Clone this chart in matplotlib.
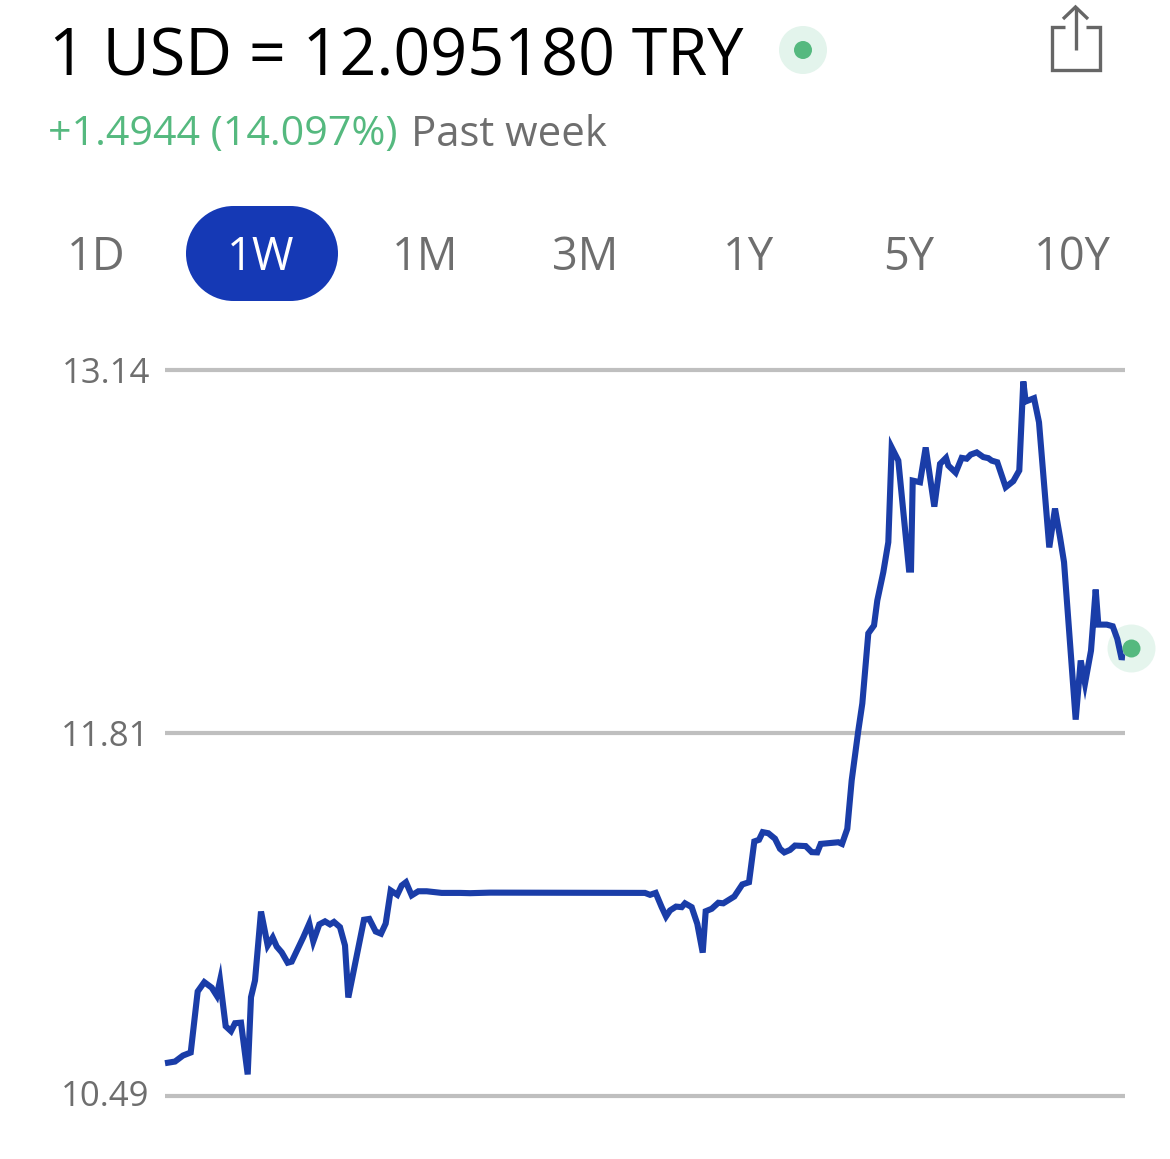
import matplotlib
matplotlib.use("Agg")
import matplotlib.pyplot as plt
from matplotlib.patches import Rectangle, Circle
from matplotlib.transforms import ScaledTranslation

plt.rcParams['font.family'] = ['Open Sans', 'DejaVu Sans']

hours = [0, 1.75, 3.15, 4.5, 5.72, 6.88, 8.17, 9.05, 9.63, 10.62, 11.55, 12.25, 13.3, 14.47, 15.05, 15.75,
         16.8, 17.97, 18.85, 19.55, 20.42, 21.47, 22.17, 24.2, 25.25, 25.95, 27.0, 28.0, 28.87, 29.57, 30.62,
         31.5, 32.08, 34.82, 35.75, 36.87, 37.8, 38.62, 39.5, 40.65, 41.42, 42.17, 43.17, 44.33, 45.8, 48.42,
         51.63, 53.4, 56.9, 83.1, 84.0, 84.88, 85.87, 86.92, 87.68, 88.38, 89.43, 90.42, 91.0, 92.17, 93.15,
         94.1, 94.62, 95.67, 96.83, 97.7, 99.63, 101.03, 102.2, 103.13, 103.95, 104.6, 105.58, 106.75, 107.63,
         108.38, 109.38, 110.25, 112.12, 113.17, 114.15, 114.75, 117.83, 118.48, 119.4, 120.17, 121.33, 122.03,
         123.08, 124.08, 124.65, 125.7, 126.58, 127.17, 128.33, 130.2, 130.55, 130.85, 132.13, 133.12, 134.63,
         135.63, 136.68, 137.08, 138.37, 139.42, 140.3, 141.0, 142.05, 143.2, 144.08, 144.67, 145.65, 147.12,
         148.45, 149.5, 150.2, 150.62, 152.08, 152.95, 154.75, 155.75, 156.63, 157.33, 159.37, 160.25, 161.0,
         162.05, 162.87, 163.33, 164.8, 165.85, 166.65, 167.35, 168]
rates = [10.608, 10.614, 10.636, 10.647, 10.870, 10.904, 10.884, 10.855, 10.910, 10.743, 10.725, 10.754, 10.756,
         10.567, 10.849, 10.910, 11.162, 11.038, 11.067, 11.034, 11.013, 10.975, 10.979, 11.068, 11.118, 11.053,
         11.115, 11.126, 11.115, 11.124, 11.105, 11.038, 10.848, 11.132, 11.135, 11.089, 11.081, 11.118, 11.239,
         11.223, 11.257, 11.269, 11.221, 11.236, 11.236, 11.230, 11.230, 11.229, 11.231, 11.230, 11.230, 11.223,
         11.230, 11.178, 11.144, 11.166, 11.180, 11.178, 11.192, 11.178, 11.117, 11.012, 11.163, 11.172, 11.194,
         11.192, 11.217, 11.261, 11.269, 11.418, 11.424, 11.452, 11.448, 11.428, 11.391, 11.378, 11.387, 11.403,
         11.401, 11.379, 11.378, 11.409, 11.415, 11.409, 11.464, 11.641, 11.823, 11.922, 12.178, 12.207, 12.298,
         12.401, 12.511, 12.857, 12.809, 12.411, 12.411, 12.736, 12.730, 12.857, 12.641, 12.797, 12.819, 12.791,
         12.765, 12.819, 12.816, 12.831, 12.839, 12.822, 12.818, 12.809, 12.803, 12.712, 12.734, 12.773, 13.098,
         13.025, 13.037, 12.949, 12.492, 12.634, 12.529, 12.438, 11.863, 12.079, 11.995, 12.115, 12.338, 12.210,
         12.210, 12.204, 12.158, 12.091, 12.090]
latest_hour = 169.05
latest_rate = 12.123

y_ticks = [10.49, 11.815, 13.14]
y_labels = ["10.49", "11.81", "13.14"]
tabs = ["1D", "1W", "1M", "3M", "1Y", "5Y", "10Y"]
title = "1 USD = 12.095180 TRY"
change = "+1.4944 (14.097%)"
period = "Past week"

W, H = 1170, 1159
BLUE, LINE, GREEN, HALO, GREY, RULE = "#1539B5", "#1A3DA8", "#55B97F", "#E3F4EC", "#6E6E6E", "#BFBFBF"

fig = plt.figure(figsize=(W / 100, H / 100), dpi=100, facecolor="white")

ov = fig.add_axes([0, 0, 1, 1], zorder=0)
ov.set_xlim(0, W); ov.set_ylim(H, 0); ov.axis("off")

ov.text(49, 58, title, fontsize=46.5, color="black", va="center", ha="left")
ov.text(48, 135, change, fontsize=29.6, color=GREEN, va="center", ha="left")
ov.text(411, 135, period, fontsize=30.2, color=GREY, va="center", ha="left")

ov.add_patch(Circle((803, 50), 24, fc=HALO, ec="none"))
ov.add_patch(Circle((803, 50), 9, fc=GREEN, ec="none"))

ic = dict(color="#666666", lw=2.4, solid_capstyle="butt", solid_joinstyle="miter")
ov.plot([1065, 1052, 1052, 1100, 1100, 1086], [26.5, 26.5, 70, 70, 26.5, 26.5], **ic)
ov.plot([1075.5, 1075.5], [50, 7], **ic)
ov.plot([1063, 1075.5, 1088], [19, 7, 19], **ic)

ov.add_patch(Rectangle((233.5, 206), 57, 95, fc=BLUE, ec="none"))
ov.add_patch(Circle((233.5, 253.5), 47.5, fc=BLUE, ec="none"))
ov.add_patch(Circle((290.5, 253.5), 47.5, fc=BLUE, ec="none"))
for lab, cx in zip(tabs, [96, 261, 425, 585, 748, 909, 1072]):
    ov.text(cx, 258, lab, fontsize=32.5, color="white" if lab == "1W" else GREY, ha="center", va="center")

ax = fig.add_axes([165 / W, 1 - 1095.5 / H, 960 / W, 725.5 / H], zorder=1, facecolor="none")
ax.set_xlim(0, 168)
ax.set_ylim(10.49, 13.14)
for s in ax.spines.values():
    s.set_visible(False)
ax.set_xticks([])
ax.set_yticks(y_ticks, y_labels)
ax.tick_params(axis="y", length=0, pad=11, labelsize=25, labelcolor=GREY)
ax.grid(axis="y", color=RULE, lw=3, solid_capstyle="butt")
ax.set_axisbelow(True)
for gl in ax.get_ygridlines():
    gl.set_clip_on(False)
low_label = ax.get_yticklabels()[0]
low_label.set_transform(low_label.get_transform() + ScaledTranslation(0, 3 / 100, fig.dpi_scale_trans))
ax.plot(hours, rates, color=LINE, lw=4.4, solid_joinstyle="miter", solid_capstyle="butt", clip_on=False, zorder=3)
ax.scatter([latest_hour], [latest_rate], s=1194, color=HALO, alpha=0.9, linewidths=0, clip_on=False, zorder=2.5)
ax.scatter([latest_hour], [latest_rate], s=168, color=GREEN, linewidths=0, clip_on=False, zorder=4)

fig.savefig("out.png", dpi=100)
